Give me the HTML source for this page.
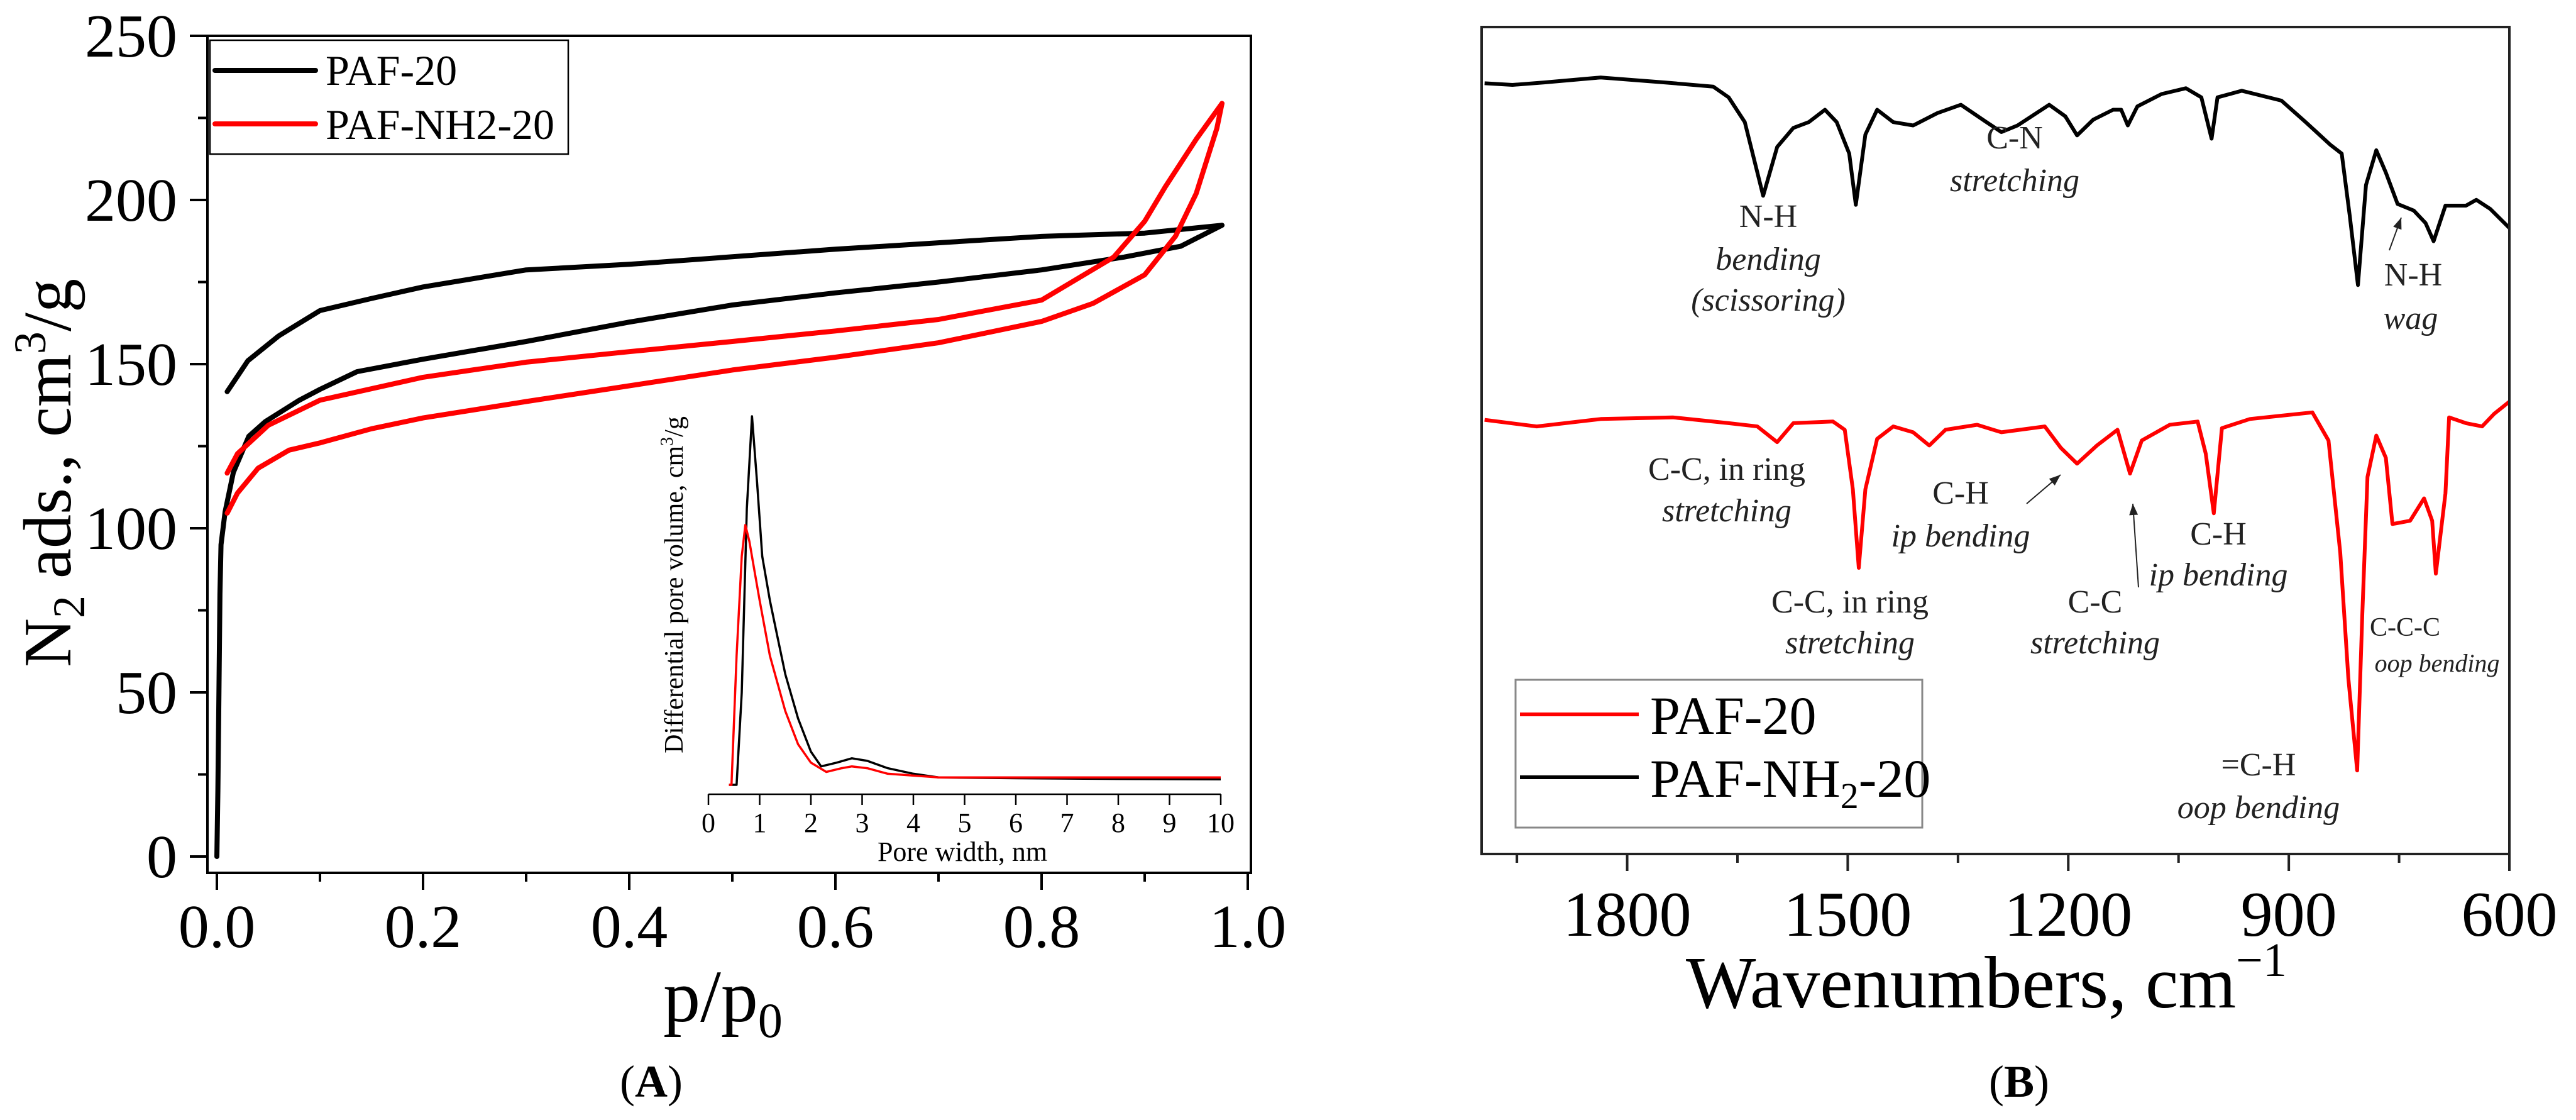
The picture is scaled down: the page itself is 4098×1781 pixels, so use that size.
<!DOCTYPE html>
<html><head><meta charset="utf-8">
<style>
html,body{margin:0;padding:0;background:#fff;}
svg{display:block;}
svg text{font-family:"Liberation Serif","Times New Roman",Times,serif;}
</style></head>
<body>
<svg id="fig" width="4098" height="1781" viewBox="0 0 4098 1781" xmlns="http://www.w3.org/2000/svg" font-family="Liberation Serif, Times New Roman, serif">
<g id="panelA"></g>
<g id="panelB"></g>
</svg>
<script>
// ---------- Panel A data ----------
const isoBlackAdsX = [0,0.001,0.002,0.003,0.004,0.008,0.016,0.031,0.047,0.08,0.1,0.136,0.2,0.3,0.4,0.5,0.6,0.7,0.8,0.88,0.935,0.975];
const isoBlackAdsY = [0,20,50,80,95,105,117,128,132.5,139,142.3,147.7,151.5,156.9,162.8,168,171.7,175,178.7,182.6,185.9,192.3];
const isoBlackDesX = [0.975,0.9,0.8,0.6,0.4,0.3,0.2,0.15,0.1,0.06,0.03,0.01];
const isoBlackDesY = [192.3,189.9,188.9,185,180.4,178.7,173.5,170,166.3,158.6,151,141.6];
const isoRedAdsX = [0.01,0.02,0.04,0.07,0.1,0.15,0.2,0.3,0.4,0.5,0.6,0.7,0.8,0.85,0.9,0.93,0.95,0.97,0.975];
const isoRedAdsY = [104.6,110.7,118.3,123.8,126,130.3,133.6,138.6,143.4,148.2,152.1,156.5,163,168.5,177.2,189,202,221.8,229.4];
const isoRedDesX = [0.975,0.95,0.92,0.9,0.87,0.8,0.7,0.6,0.5,0.4,0.3,0.2,0.1,0.05,0.02,0.01];
const isoRedDesY = [229.4,218.5,204,193.5,182.6,169.5,163.6,160.1,156.9,153.8,150.6,146,139,131.4,122.7,116.8];
const psdBlackX = [0.4,0.55,0.65,0.75,0.85,0.95,1.05,1.2,1.35,1.5,1.75,2.0,2.2,2.5,2.8,3.1,3.5,4.0,4.5,6,8,10];
const psdBlackY = [0,0,0.25,0.75,1.0,0.82,0.62,0.5,0.4,0.3,0.18,0.09,0.05,0.06,0.072,0.065,0.045,0.03,0.02,0.018,0.016,0.015];
const psdRedX = [0.4,0.45,0.55,0.65,0.72,0.8,0.9,1.0,1.2,1.5,1.75,2.0,2.3,2.6,2.8,3.1,3.5,4.5,6,8,10];
const psdRedY = [0,0,0.35,0.62,0.705,0.66,0.58,0.5,0.35,0.2,0.11,0.06,0.035,0.045,0.05,0.045,0.03,0.02,0.02,0.02,0.02];
const aYTicks = [0,50,100,150,200,250];
const aXTicks = [0,0.2,0.4,0.6,0.8,1.0];
const aXTickLabels = ["0.0","0.2","0.4","0.6","0.8","1.0"];
const insetTicks = [0,1,2,3,4,5,6,7,8,9,10];

// ---------- Panel B data ----------
const blackWn = [1994,1956,1913,1836,1749,1683,1662,1640,1615,1596,1574,1553,1531,1515,1498,1489,1476,1460,1438,1411,1378,1346,1313,1291,1269,1226,1204,1188,1166,1139,1128,1119,1106,1073,1040,1019,1005,997,964,910,877,844,828,817,806,795,781,768,752,730,714,703,687,659,645,626,600];
const blackT = [93.2,93.0,93.3,93.9,93.3,92.8,91.5,88.5,79.6,85.5,87.8,88.5,90.0,88.5,84.7,78.5,87.0,90.0,88.5,88.1,89.6,90.6,88.6,87.3,88.1,90.6,89.2,86.9,88.8,90.0,90.0,88.1,90.4,91.9,92.6,91.5,86.5,91.5,92.3,91.1,88.5,85.8,84.7,77.1,68.8,80.9,85.1,82.4,78.6,77.8,76.3,74.1,78.4,78.4,79.1,78.0,75.7];
const redWn = [1994,1923,1836,1738,1662,1623,1596,1574,1520,1504,1493,1485,1476,1460,1438,1411,1389,1367,1324,1291,1232,1210,1188,1161,1133,1116,1100,1062,1024,1013,1002,991,953,910,868,846,830,819,807,800,793,781,768,759,735,716,705,700,687,682,659,637,621,600];
const redT = [52.5,51.7,52.6,52.8,52.1,51.7,49.8,52.1,52.3,51.3,44.1,34.6,44.1,50.2,51.7,51.0,49.4,51.3,51.9,51.0,51.7,49.1,47.2,49.4,51.3,46.0,50.0,51.9,52.3,48.4,41.2,51.5,52.6,53.0,53.4,50.0,36.4,21.2,10.1,29.1,45.6,50.6,47.9,39.9,40.3,43.0,40.3,33.9,43.6,52.8,52.1,51.7,53.2,54.7];
const bXTicks = [1800,1500,1200,900,600];
const bMinorTicks = [1950,1650,1350,1050,750];

const NS = "http://www.w3.org/2000/svg";
const FF = '"Liberation Serif", "Times New Roman", Times, serif';
function mk(parent, tag, attrs, text){
  const e = document.createElementNS(NS, tag);
  for (const k in attrs) e.setAttribute(k, attrs[k]);
  if (tag === 'text') e.style.fontFamily = FF;
  if (text !== undefined) e.textContent = text;
  parent.appendChild(e);
  return e;
}
function pathD(xs, ys, fx, fy){
  return xs.map((x,i)=>(i?'L':'M')+fx(x).toFixed(1)+','+fy(ys[i]).toFixed(1)).join(' ');
}

// ===== Panel A =====
const A = document.getElementById('panelA');
const ax = v => 345 + v*1640;
const ay = v => 1362 - v*5.22;

let e;
e = mk(A,'rect',{x:330,y:57,width:1660,height:1331,fill:'none',stroke:'#000','stroke-width':4});



aYTicks.forEach((t,i)=>{
  e = mk(A,'line',{x1:302,x2:330,y1:ay(t),y2:ay(t),stroke:'#000','stroke-width':4});
  
  
  e = mk(A,'text',{x:282,y:ay(t)+33,'font-size':98,'text-anchor':'end'},String(t));
  
  
  if (i < aYTicks.length-1){
    const m = t+25;
    e = mk(A,'line',{x1:315,x2:330,y1:ay(m),y2:ay(m),stroke:'#000','stroke-width':4});
    
    
  }
});
aXTicks.forEach((t,i)=>{
  e = mk(A,'line',{x1:ax(t),x2:ax(t),y1:1388,y2:1415,stroke:'#000','stroke-width':4});
  
  
  e = mk(A,'text',{x:ax(t),y:1506,'font-size':98,'text-anchor':'middle'},aXTickLabels[i]);
  
  
  if (i < aXTicks.length-1){
    const m = t+0.1;
    e = mk(A,'line',{x1:ax(m),x2:ax(m),y1:1388,y2:1402,stroke:'#000','stroke-width':4});
    
    
  }
});

[[isoBlackAdsX,isoBlackAdsY,'#000','black-adsorption-branch'],
 [isoBlackDesX,isoBlackDesY,'#000','black-desorption-branch'],
 [isoRedAdsX,isoRedAdsY,'#f00','red-adsorption-branch'],
 [isoRedDesX,isoRedDesY,'#f00','red-desorption-branch']].forEach(s=>{
  e = mk(A,'path',{d:pathD(s[0],s[1],ax,ay),fill:'none',stroke:s[2],'stroke-width':8,'stroke-linejoin':'round','stroke-linecap':'round'});
  
  
});

e = mk(A,'rect',{x:334,y:64,width:570,height:181,fill:'#fff',stroke:'#000','stroke-width':2.5});


e = mk(A,'line',{x1:342,x2:502,y1:112,y2:112,stroke:'#000','stroke-width':8,'stroke-linecap':'round'});


e = mk(A,'text',{x:518,y:135,'font-size':68},'PAF-20');


e = mk(A,'line',{x1:342,x2:502,y1:197,y2:197,stroke:'#f00','stroke-width':8,'stroke-linecap':'round'});


e = mk(A,'text',{x:518,y:221,'font-size':68},'PAF-NH2-20');



e = mk(A,'text',{transform:'translate(112,752) rotate(-90)','font-size':108,'text-anchor':'middle'});


e.innerHTML = 'N<tspan font-size="72" dy="22">2</tspan><tspan dy="-22"> ads., cm</tspan><tspan font-size="72" dy="-40">3</tspan><tspan dy="40">/g</tspan>';
e = mk(A,'text',{x:1150,y:1624,'font-size':118,'text-anchor':'middle'});


e.innerHTML = 'p/p<tspan font-size="78" dy="25">0</tspan>';
e = mk(A,'text',{x:1036,y:1744,'font-size':72,'text-anchor':'middle'});


e.innerHTML = '(<tspan font-weight="bold">A</tspan>)';

const ix = v => 1127 + v*81.5;
const iy = v => 1248 - v*586;
e = mk(A,'line',{x1:1127,x2:1942,y1:1263,y2:1263,stroke:'#000','stroke-width':2.5});


insetTicks.forEach(t=>{
  e = mk(A,'line',{x1:ix(t),x2:ix(t),y1:1263,y2:1280,stroke:'#000','stroke-width':2.5});
  
  
  e = mk(A,'text',{x:ix(t),y:1323,'font-size':44,'text-anchor':'middle'},String(t));
  
  
});
e = mk(A,'text',{x:1531,y:1369,'font-size':44,'text-anchor':'middle'},'Pore width, nm');


e = mk(A,'text',{transform:'translate(1086,930) rotate(-90)','font-size':42,'text-anchor':'middle'});


e.innerHTML = 'Differential pore volume, cm<tspan font-size="28" dy="-16">3</tspan><tspan dy="16">/g</tspan>';
e = mk(A,'path',{d:pathD(psdBlackX,psdBlackY,ix,iy),fill:'none',stroke:'#000','stroke-width':3.5,'stroke-linejoin':'round'});


e = mk(A,'path',{d:pathD(psdRedX,psdRedY,ix,iy),fill:'none',stroke:'#f00','stroke-width':3.5,'stroke-linejoin':'round'});



// ===== Panel B =====
const B = document.getElementById('panelB');
const bx = w => 2357 + (1998 - w)*(1635/1398);
const by = v => 1358 - v*13.15;

e = mk(B,'path',{d:pathD(blackWn,blackT,bx,by),fill:'none',stroke:'#000','stroke-width':6,'stroke-linejoin':'round'});


e = mk(B,'path',{d:pathD(redWn,redT,bx,by),fill:'none',stroke:'#f00','stroke-width':6,'stroke-linejoin':'round'});



e = mk(B,'rect',{x:2357,y:43,width:1635,height:1315,fill:'none',stroke:'#222','stroke-width':4});


bXTicks.forEach(t=>{
  e = mk(B,'line',{x1:bx(t),x2:bx(t),y1:1358,y2:1385,stroke:'#222','stroke-width':4});
  
  
  e = mk(B,'text',{x:bx(t),y:1488,'font-size':102,'text-anchor':'middle'},String(t));
  
  
});
bMinorTicks.forEach(t=>{
  e = mk(B,'line',{x1:bx(t),x2:bx(t),y1:1358,y2:1372,stroke:'#222','stroke-width':4});
  
  
});
e = mk(B,'text',{x:3160,y:1602,'font-size':118,'text-anchor':'middle'});


e.innerHTML = 'Wavenumbers, cm<tspan font-size="76" dy="-50">−1</tspan>';
e = mk(B,'text',{x:3212,y:1744,'font-size':72,'text-anchor':'middle'});


e.innerHTML = '(<tspan font-weight="bold">B</tspan>)';

e = mk(B,'rect',{x:2411,y:1081,width:647,height:235,fill:'#fff',stroke:'#888','stroke-width':3});


e = mk(B,'line',{x1:2418,x2:2607,y1:1136,y2:1136,stroke:'#f00','stroke-width':6});


e = mk(B,'text',{x:2625,y:1167,'font-size':86},'PAF-20');


e = mk(B,'line',{x1:2418,x2:2607,y1:1236,y2:1236,stroke:'#000','stroke-width':6});


e = mk(B,'text',{x:2625,y:1267,'font-size':86});


e.innerHTML = 'PAF-NH<tspan font-size="58" dy="18">2</tspan><tspan dy="-18">-20</tspan>';

const ann = [
 [2813,361,'N-H',0,52],[2813,429,'bending',1,52],[2813,494,'(scissoring)',1,52],
 [3205,236,'C-N',0,52],[3205,304,'stretching',1,52],
 [3839,454,'N-H',0,52],[3835,523,'wag',1,52],
 [2747,763,'C-C, in ring',0,52],[2747,829,'stretching',1,52],
 [3119,801,'C-H',0,52],[3119,869,'ip bending',1,52],
 [2943,974,'C-C, in ring',0,52],[2943,1039,'stretching',1,52],
 [3333,974,'C-C',0,52],[3333,1039,'stretching',1,52],
 [3529,866,'C-H',0,52],[3529,931,'ip bending',1,52],
 [3826,1011,'C-C-C',0,42],[3877,1068,'oop bending',1,40],
 [3593,1233,'=C-H',0,52],[3593,1301,'oop bending',1,52]
];
ann.forEach(a=>{
  e = mk(B,'text',{x:a[0],y:a[1],'font-size':a[4],'text-anchor':'middle',fill:'#222','font-style':a[3]?'italic':'normal'},a[2]);
  
  
});
const arrows = [[3801,398,3820,346],[3224,801,3278,755],[3402,934,3393,801]];
arrows.forEach(r=>{
  e = mk(B,'line',{x1:r[0],y1:r[1],x2:r[2],y2:r[3],stroke:'#222','stroke-width':2});
  
  
  const ang = Math.atan2(r[3]-r[1], r[2]-r[0]);
  const L=18, W=7;
  const p1x = r[2]-L*Math.cos(ang)+W*Math.sin(ang), p1y = r[3]-L*Math.sin(ang)-W*Math.cos(ang);
  const p2x = r[2]-L*Math.cos(ang)-W*Math.sin(ang), p2y = r[3]-L*Math.sin(ang)+W*Math.cos(ang);
  e = mk(B,'polygon',{points:`${r[2]},${r[3]} ${p1x},${p1y} ${p2x},${p2y}`,fill:'#222'});
  
  
});
</script>
</body></html>
